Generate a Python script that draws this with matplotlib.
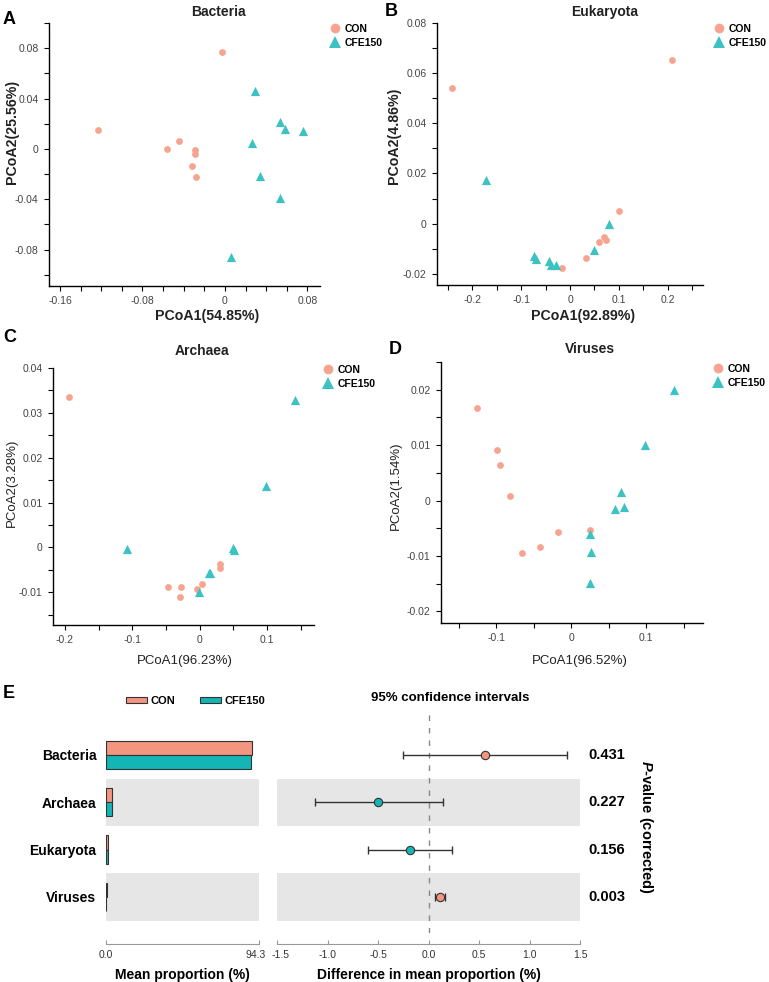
import numpy as np
import matplotlib
matplotlib.use("Agg")
import matplotlib.pyplot as plt
from matplotlib.ticker import MultipleLocator, FuncFormatter
from matplotlib.lines import Line2D
from matplotlib.patches import Patch
from matplotlib.transforms import ScaledTranslation

W, H = 769, 982

# ---- PCoA data ----
bac_con_x = [-0.123, -0.0026, -0.0563, -0.045, -0.029, -0.0287, -0.0316, -0.0277]
bac_con_y = [0.0148, 0.077, 0.0, 0.006, -0.0008, -0.0042, -0.0137, -0.0222]
bac_cfe_x = [0.0293, 0.0538, 0.058, 0.0757, 0.0264, 0.0341, 0.0531, 0.0061]
bac_cfe_y = [0.046, 0.0211, 0.0161, 0.0143, 0.005, -0.0219, -0.0388, -0.0858]

euk_con_x = [-0.242, 0.21, 0.1005, 0.069, 0.0738, 0.0588, 0.0321, -0.0171]
euk_con_y = [0.0541, 0.0652, 0.0052, -0.0052, -0.0065, -0.0073, -0.0136, -0.0177]
euk_cfe_x = [-0.173, 0.0807, 0.0485, -0.0738, -0.069, -0.043, -0.0397, -0.0294]
euk_cfe_y = [0.0172, -0.0003, -0.0106, -0.0128, -0.014, -0.0149, -0.0166, -0.0166]

arc_con_x = [-0.1938, -0.0475, -0.0272, -0.0292, -0.0035, 0.0035, 0.0297, 0.0297]
arc_con_y = [0.0335, -0.00875, -0.00875, -0.011, -0.0092, -0.0082, -0.0038, -0.0045]
arc_cfe_x = [-0.1073, 0.1409, 0.0979, 0.0494, 0.0504, 0.0133, 0.0158, -0.001]
arc_cfe_y = [-0.0003, 0.0329, 0.0137, -0.0002, -0.0005, -0.0057, -0.0057, -0.0100]

vir_con_x = [-0.1253, -0.0991, -0.0947, -0.0818, -0.0662, -0.0418, -0.0182, 0.0249]
vir_con_y = [0.01676, 0.0092, 0.0064, 0.0008, -0.0094, -0.0084, -0.0057, -0.0053]
vir_cfe_x = [0.1378, 0.0991, 0.0667, 0.0591, 0.0707, 0.0244, 0.0267, 0.0249]
vir_cfe_y = [0.0199, 0.0100, 0.0015, -0.0016, -0.0012, -0.0061, -0.0093, -0.0149]

# ---- STAMP data ----
taxa = ["Bacteria", "Archaea", "Eukaryota", "Viruses"]
mean_con = [89.9, 3.5, 1.25, 0.4]
mean_cfe = [89.1, 4.0, 1.46, 0.3]
diff = [0.562, -0.496, -0.185, 0.112]
ci_low = [-0.251, -1.127, -0.595, 0.069]
ci_high = [1.371, 0.139, 0.228, 0.165]
p_values = ["0.431", "0.227", "0.156", "0.003"]

CON_C = "#F6A48F"
CFE_C = "#3CC2C2"
BAR_CON = "#F39680"
BAR_CFE = "#13B5B5"
BAND = "#E6E6E6"

plt.rcParams.update({
    "font.family": ["Liberation Sans", "DejaVu Sans"],
    "axes.unicode_minus": False,
    "mathtext.fontset": "custom",
    "mathtext.bfit": "Liberation Sans:italic:bold",
    "mathtext.rm": "Liberation Sans",
})


def fx(x):
    return x / W


def fy(y):
    return 1 - y / H


def box(l, t, r, b):
    return [fx(l), fy(b), (r - l) / W, (b - t) / H]


def fmt(v, _):
    if abs(v) < 1e-9:
        return "0"
    return f"{v:g}"


fig = plt.figure(figsize=(W / 100, H / 100), dpi=100)

panels = [
    dict(box=(49, 23, 320, 286), con=(bac_con_x, bac_con_y), cfe=(bac_cfe_x, bac_cfe_y),
         xlim=(-0.1707, 0.0923), ylim=(-0.109, 0.1), xt=(0.08, 0.02), yt=(0.04, 0.02),
         xlab="PCoA1(54.85%)", ylab="PCoA2(25.56%)", bold=True, title="Bacteria",
         tpos=(218, 12), letter="A", lpos=(3, 20), xlpos=(207, 316), ylpos=(12, 132),
         legpos=(330, 24)),
    dict(box=(437, 23, 703, 285), con=(euk_con_x, euk_con_y), cfe=(euk_cfe_x, euk_cfe_y),
         xlim=(-0.2728, 0.2728), ylim=(-0.0245, 0.08), xt=(0.1, 0.05), yt=(0.02, 0.01),
         xlab="PCoA1(92.89%)", ylab="PCoA2(4.86%)", bold=True, title="Eukaryota",
         tpos=(605, 12), letter="B", lpos=(385, 12), xlpos=(583, 316), ylpos=(394, 136),
         legpos=(714, 24)),
    dict(box=(53, 368, 314, 625), con=(arc_con_x, arc_con_y), cfe=(arc_cfe_x, arc_cfe_y),
         xlim=(-0.2175, 0.1696), ylim=(-0.0173, 0.04), xt=(0.1, 0.05), yt=(0.01, 0.005),
         xlab="PCoA1(96.23%)", ylab="PCoA2(3.28%)", bold=False, title="Archaea",
         tpos=(202, 351), letter="C", lpos=(3, 337), xlpos=(185, 661), ylpos=(12, 483),
         legpos=(323, 365)),
    dict(box=(441, 362, 703, 623), con=(vir_con_x, vir_con_y), cfe=(vir_cfe_x, vir_cfe_y),
         xlim=(-0.174, 0.176), ylim=(-0.0221, 0.025), xt=(0.1, 0.05), yt=(0.01, 0.005),
         xlab="PCoA1(96.52%)", ylab="PCoA2(1.54%)", bold=False, title="Viruses",
         tpos=(590, 349), letter="D", lpos=(389, 349), xlpos=(580, 661), ylpos=(396, 486),
         legpos=(713, 364)),
]

for p in panels:
    ax = fig.add_axes(box(*p["box"]))
    ax.scatter(*p["con"], s=24, color=CON_C, marker="o", linewidths=0, zorder=3)
    ax.scatter(*p["cfe"], s=44, color=CFE_C, marker="^", linewidths=0, zorder=3)
    ax.set_xlim(*p["xlim"])
    ax.set_ylim(*p["ylim"])
    ax.xaxis.set_major_locator(MultipleLocator(p["xt"][0]))
    ax.xaxis.set_minor_locator(MultipleLocator(p["xt"][1]))
    ax.yaxis.set_major_locator(MultipleLocator(p["yt"][0]))
    ax.yaxis.set_minor_locator(MultipleLocator(p["yt"][1]))
    ax.xaxis.set_major_formatter(FuncFormatter(fmt))
    ax.yaxis.set_major_formatter(FuncFormatter(fmt))
    for s in ("top", "right"):
        ax.spines[s].set_visible(False)
    for s in ("left", "bottom"):
        ax.spines[s].set_linewidth(1.0)
    ax.tick_params(which="both", direction="out", length=3.5, width=0.8,
                   labelsize=7.5, labelcolor="#444444", pad=4)
    fw = "bold" if p["bold"] else "normal"
    fs = 10.2 if p["bold"] else 9.5
    fig.text(fx(p["xlpos"][0]), fy(p["xlpos"][1]), p["xlab"], ha="center", va="center",
             fontsize=fs, fontweight=fw, color="#222222")
    fig.text(fx(p["ylpos"][0]), fy(p["ylpos"][1]), p["ylab"], ha="center", va="center",
             rotation=90, fontsize=fs, fontweight=fw, color="#222222")
    fig.text(fx(p["tpos"][0]), fy(p["tpos"][1]), p["title"], ha="center", va="center",
             fontsize=10, fontweight="bold", color="#222222")
    fig.text(fx(p["lpos"][0]), fy(p["lpos"][1]), p["letter"], ha="left", va="center",
             fontsize=13, fontweight="bold")
    handles = [Line2D([], [], ls="none", marker="o", ms=7, color=CON_C, mew=0),
               Line2D([], [], ls="none", marker="^", ms=8, color=CFE_C, mew=0)]
    ax.legend(handles, ["CON", "CFE150"], loc="upper left",
              bbox_to_anchor=(fx(p["legpos"][0]), fy(p["legpos"][1])),
              bbox_transform=fig.transFigure, frameon=False, borderaxespad=0,
              borderpad=0, handlelength=1.0, handletextpad=0.4, labelspacing=0.35,
              prop={"size": 7.5, "weight": "bold"})

# ---- Panel E ----
rows = np.arange(len(taxa))
top_px, bot_px = 708, 933
ylim_e = (3.76, -0.99)

axb = fig.add_axes(box(106, top_px, 259, bot_px))
axd = fig.add_axes(box(277, top_px, 580, bot_px))

for a in (axb, axd):
    for r in rows:
        if r % 2 == 1:
            a.axhspan(r - 0.5, r + 0.5, color=BAND, zorder=0, lw=0)
    a.set_ylim(*ylim_e)
    for s in ("top", "right", "left"):
        a.spines[s].set_visible(False)
    a.spines["bottom"].set_position(("outward", 8))
    a.spines["bottom"].set_color("#999999")
    a.tick_params(axis="x", direction="in", length=3, color="#999999",
                  labelsize=7.5, labelcolor="#333333", pad=4)

axb.barh(rows - 0.15, mean_con, height=0.3, color=BAR_CON, edgecolor="#333333",
         linewidth=0.8, zorder=2)
axb.barh(rows + 0.15, mean_cfe, height=0.3, color=BAR_CFE, edgecolor="#333333",
         linewidth=0.8, zorder=2)
axb.set_xlim(0, 94.3)
axb.set_xticks([0, 94.3])
axb.set_xticklabels(["0.0", "94.3"])
axb.set_yticks(rows)
axb.set_yticklabels(taxa, fontsize=10, fontweight="bold")
axb.tick_params(axis="y", length=0, pad=7)
axb.set_xlabel("Mean proportion (%)", fontsize=10, fontweight="bold", labelpad=6)

axd.axvline(0, color="#888888", ls=(0, (4, 5)), lw=1, zorder=1)
point_colors = [BAR_CON if d > 0 else BAR_CFE for d in diff]
for r, d, lo, hi, c in zip(rows, diff, ci_low, ci_high, point_colors):
    axd.errorbar([d], [r], xerr=[[d - lo], [hi - d]], fmt="none", ecolor="#333333",
                 elinewidth=1, capsize=3, capthick=1, zorder=3)
    axd.plot([d], [r], "o", ms=6, color=c, mec="#333333", mew=0.8, zorder=4)
axd.set_xlim(-1.5, 1.5)
axd.set_xticks(np.arange(-1.5, 1.51, 0.5))
axd.xaxis.set_major_formatter(FuncFormatter(lambda v, _: f"{v:.1f}"))
axd.set_yticks([])
axd.set_xlabel("Difference in mean proportion (%)", fontsize=10, fontweight="bold",
               labelpad=6)

# nudge the two crowded end labels apart, as in the original
fig.canvas.draw()
shift = 3.5 / 100
lab_end = axb.get_xticklabels()[-1]
lab_end.set_transform(lab_end.get_transform()
                      + ScaledTranslation(-shift, 0, fig.dpi_scale_trans))
lab_start = axd.get_xticklabels()[0]
lab_start.set_transform(lab_start.get_transform()
                        + ScaledTranslation(shift, 0, fig.dpi_scale_trans))

for r, pv in zip(rows, p_values):
    y_px = 755 + r * 47.3
    fig.text(fx(607), fy(y_px), pv, ha="center", va="center", fontsize=10.5,
             fontweight="bold")
fig.text(fx(646), fy(827), r"$\mathbfit{P}$-value (corrected)", rotation=270,
         ha="center", va="center", fontsize=10.5, fontweight="bold")
fig.text(fx(450), fy(698), "95% confidence intervals", ha="center", va="center",
         fontsize=9.5, fontweight="bold")
fig.text(fx(3), fy(693), "E", ha="left", va="center", fontsize=13, fontweight="bold")

leg_handles = [Patch(facecolor=BAR_CON, edgecolor="#333333", lw=0.8),
               Patch(facecolor=BAR_CFE, edgecolor="#333333", lw=0.8)]
fig.legend(leg_handles, ["CON", "CFE150"], loc="center left",
           bbox_to_anchor=(fx(126), fy(701)), frameon=False, ncol=2,
           borderaxespad=0, borderpad=0, handlelength=1.9, handleheight=0.55,
           handletextpad=0.3, columnspacing=2.2, prop={"size": 8, "weight": "bold"})

fig.savefig("out.png", dpi=100)
